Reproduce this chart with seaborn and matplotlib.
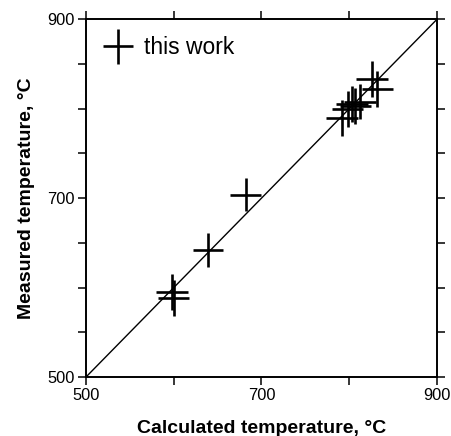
import matplotlib
matplotlib.use("Agg")
import matplotlib.pyplot as plt
from matplotlib.legend_handler import HandlerErrorbar
from matplotlib.ticker import FixedLocator, NullFormatter
import seaborn as sns
import pandas as pd

# Calculated vs. measured temperatures (°C) with uncertainties
calculated = [598, 600, 639, 682, 792, 798, 803, 807, 812, 826, 832]
measured = [595, 588, 642, 704, 790, 800, 805, 803, 808, 833, 822]
calc_err = [18, 18, 17, 18, 18, 18, 18, 18, 18, 18, 18]
meas_err = [20, 20, 19, 18, 20, 20, 20, 20, 20, 20, 20]
one_to_one = [500, 900]
major_ticks = [500, 700, 900]

sns.set_style("ticks")
plt.rcParams["font.family"] = ["Liberation Sans", "DejaVu Sans"]
plt.rcParams["text.color"] = "black"

df = pd.DataFrame({"calc": calculated, "meas": measured,
                   "xerr": calc_err, "yerr": meas_err})

fig, ax = plt.subplots(figsize=(4.52, 4.36), dpi=100)
fig.subplots_adjust(left=0.190, right=0.967, bottom=0.135, top=0.956)

sns.lineplot(x=one_to_one, y=one_to_one, ax=ax, color="black", lw=1.0)
eb = ax.errorbar(df["calc"], df["meas"], xerr=df["xerr"], yerr=df["yerr"],
                 fmt="none", ecolor="black", elinewidth=1.9, capsize=0,
                 label="this work")

ax.set_xlim(500, 900)
ax.set_ylim(500, 900)

# bottom/top: ticks every 100; left/right: ticks every 50
ax.xaxis.set_major_locator(FixedLocator(major_ticks))
ax.xaxis.set_minor_locator(FixedLocator([600, 800]))
ax.yaxis.set_major_locator(FixedLocator(major_ticks))
ax.yaxis.set_minor_locator(FixedLocator([550, 600, 650, 750, 800, 850]))
ax.xaxis.set_minor_formatter(NullFormatter())
ax.yaxis.set_minor_formatter(NullFormatter())

for side in ax.spines.values():
    side.set_linewidth(1.4)
    side.set_color("black")

ax.tick_params(which="both", direction="out", length=5.8, width=1.1,
               color="black", top=True, right=True, labelsize=11.8,
               labelcolor="black", pad=2)

ax.set_xlabel("Calculated temperature, °C", fontsize=14, fontweight="bold",
              labelpad=12, color="black")
ax.set_ylabel("Measured temperature, °C", fontsize=14, fontweight="bold",
              labelpad=9, color="black")

ax.legend(handles=[eb], loc="upper left", frameon=False, fontsize=16.5,
          handlelength=1.3, handletextpad=0.5, borderaxespad=0.45,
          borderpad=0.3, labelcolor="black",
          handler_map={type(eb): HandlerErrorbar(xerr_size=0.65,
                                                 yerr_size=0.75)})

fig.savefig("out.png", dpi=100)
